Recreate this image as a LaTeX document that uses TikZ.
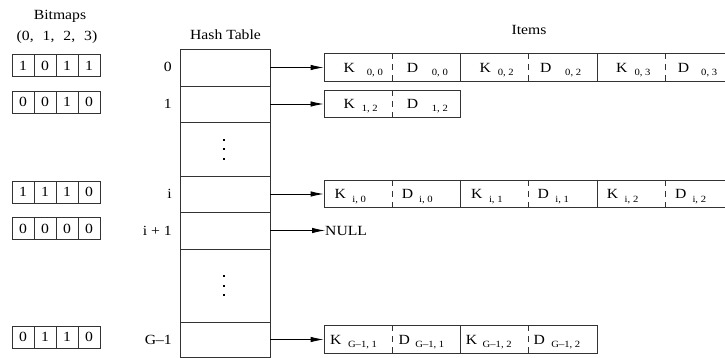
\documentclass[tikz,border=0pt]{standalone}
\usepackage{fontspec}
\setmainfont{Liberation Serif}[FakeStretch=1.12]
\usetikzlibrary{arrows.meta}

% small size for the key/data indices
\newcommand\subfs{\fontsize{9.5}{10}\selectfont}
% one bitmap: four cells in a row
\newcommand\bitmaprow[6]{%
  \node[bit] (#1a) at (23,#2) {#3};
  \node[bit] (#1b) at (45,#2) {#4};
  \node[bit] (#1c) at (67,#2) {#5};
  \node[bit] (#1d) at (89,#2) {#6};
}
% one key or data label: name, x, baseline y, letter, gap, index
\newcommand\itm[6]{%
  \node[lbl] (#1) at (#2,#3) {#4\kern#5pt\raisebox{-3.3pt}{\subfs #6}};
}
% dividers of an item list: row node, number of cells
\newcommand\celldiv[2]{%
  \foreach \k in {1,...,#2}{%
    \ifodd\k
      \draw[dsep] (#1.north west) ++(\k*68.33,0) -- ++(0,27.5);
    \else
      \draw[sep] (#1.north west) ++(\k*68.33,0) -- ++(0,27.5);
    \fi
  }%
}

\begin{document}
\begin{tikzpicture}[x=1pt,y=-1pt,
  font=\fontsize{14}{16}\selectfont,
  ln/.style={draw=black!80, line width=0.8pt},
  htrow/.style={ln, minimum width=90pt, inner sep=0pt},
  bit/.style={ln, minimum width=22pt, minimum height=22pt, inner sep=0pt},
  itemrow/.style={ln, minimum height=27.5pt, inner sep=0pt},
  lbl/.style={anchor=base west, inner sep=0pt},
  rowlbl/.style={anchor=base east, inner sep=0pt},
  title/.style={anchor=base, inner sep=0pt},
  ptr/.style={draw=black, line width=0.8pt, -{Latex[length=13pt,width=5.5pt]}},
  sep/.style={draw=black!80, line width=0.8pt},
  dsep/.style={sep, dash pattern=on 6pt off 5pt},
]
\useasboundingbox (0,0) rectangle (725,358);
\clip (0,0) rectangle (725,358);

% headings
\node[title] (tbits) at (60,19.5) {Bitmaps};
\node[title] (tcols) at (57,40.5) {(0,\hspace{9pt}1,\hspace{9pt}2,\hspace{9pt}3)};
\node[title] (ttab) at (225.5,39.5) {Hash Table};
\node[title] (titems) at (529,34.5) {Items};

% hash table rows
\node[htrow, minimum height=37pt] (h0)  at (225,67.5)  {};
\node[htrow, minimum height=36pt] (h1)  at (225,104)   {};
\node[htrow, minimum height=54pt] (hd1) at (225,149)   {};
\node[htrow, minimum height=36pt] (hi)  at (225,194)   {};
\node[htrow, minimum height=37pt] (hi1) at (225,230.5) {};
\node[htrow, minimum height=73pt] (hd2) at (225,285.5) {};
\node[htrow, minimum height=35pt] (hg)  at (225,339.5) {};

% vertical ellipses
\foreach \yy in {140,149.5,159,276,285.5,295}
  \fill[black] (223,\yy-1) rectangle (225,\yy+1);

% row indices
\node[rowlbl] (l0)  at (172,72)    {0};
\node[rowlbl] (l1)  at (172,108.3) {1};
\node[rowlbl] (li)  at (172,198.7) {i};
\node[rowlbl] (li1) at (172,235.3) {i + 1};
\node[rowlbl] (lg)  at (172,344)   {G\textendash 1};

% bitmaps
\bitmaprow{b0}{65.5}{1}{0}{1}{1}
\bitmaprow{b1}{102}{0}{0}{1}{0}
\bitmaprow{bi}{192}{1}{1}{1}{0}
\bitmaprow{bj}{228.5}{0}{0}{0}{0}
\bitmaprow{bg}{337}{0}{1}{1}{0}

% item lists
\node[itemrow, minimum width=410pt]   (r0) at (529,67.5)      {};
\node[itemrow, minimum width=136.67pt] (r1) at (392.33,104)   {};
\node[itemrow, minimum width=410pt]   (ri) at (529,194)       {};
\node[itemrow, minimum width=273.33pt] (rg) at (460.67,339.5) {};
\celldiv{r0}{5}
\celldiv{r1}{1}
\celldiv{ri}{5}
\celldiv{rg}{3}

\node[lbl] (null) at (325,235.5) {NULL};

% pointers
\draw[ptr] (h0.east)  -- (r0.west);
\draw[ptr] (h1.east)  -- (r1.west);
\draw[ptr] (hi.east)  -- (ri.west);
\draw[ptr] (hi1.east) -- (hi1.east -| null.west);
\draw[ptr] (hg.east)  -- (rg.west);

% keys and data
\itm{k00}{343.3}{72.2}{K}{12.1}{0, 0}
\itm{d00}{406.7}{72.2}{D}{13.7}{0, 0}
\itm{k02}{479.3}{72.2}{K}{7}{0, 2}
\itm{d02}{540}{72.2}{D}{13.7}{0, 2}
\itm{k03}{616}{72.2}{K}{7}{0, 3}
\itm{d03}{677.7}{72.2}{D}{12}{0, 3}

\itm{k12}{343.3}{108.7}{K}{7}{1, 2}
\itm{d12}{406.7}{108.7}{D}{13.7}{1, 2}

\itm{ki0}{334.3}{198.7}{K}{6.5}{i, 0}
\itm{di0}{401.7}{198.7}{D}{6}{i, 0}
\itm{ki1}{471}{198.7}{K}{6.5}{i, 1}
\itm{di1}{537.3}{198.7}{D}{6.5}{i, 1}
\itm{ki2}{606.7}{198.7}{K}{6.5}{i, 2}
\itm{di2}{675}{198.7}{D}{6}{i, 2}

\itm{kg1}{330}{344.2}{K}{6.5}{G\textendash 1, 1}
\itm{dg1}{398.3}{344.2}{D}{5.5}{G\textendash 1, 1}
\itm{kg2}{465.7}{344.2}{K}{5.5}{G\textendash 1, 2}
\itm{dg2}{533.3}{344.2}{D}{6.5}{G\textendash 1, 2}
\end{tikzpicture}
\end{document}
